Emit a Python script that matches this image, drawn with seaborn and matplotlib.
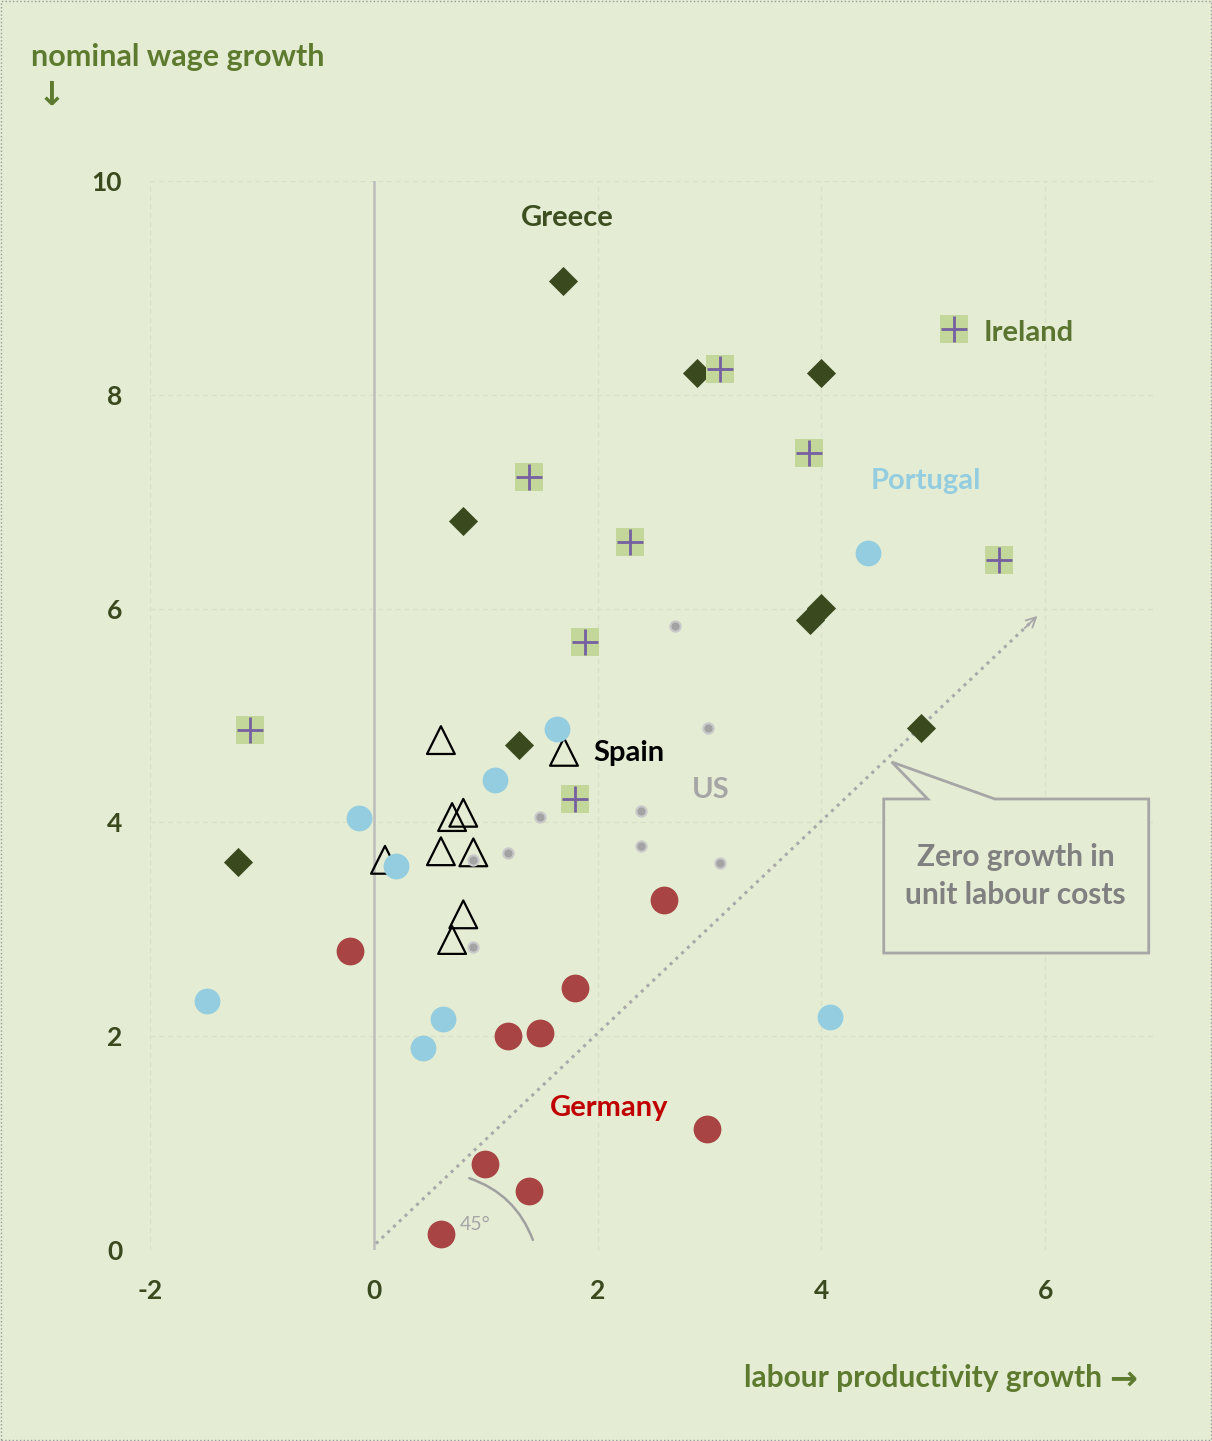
import pandas as pd
import matplotlib.pyplot as plt
import matplotlib
import seaborn as sns
from matplotlib.patches import Polygon, Rectangle

# labour productivity growth (x) and nominal wage growth (y)
greece_x = [1.69, 2.89, 4.00, 0.80, 4.00, 3.90, 4.89, 1.30, -1.21]
greece_y = [9.06, 8.20, 8.20, 6.82, 6.01, 5.89, 4.88, 4.72, 3.63]

ireland_x = [5.19, 3.09, 3.89, 1.39, 2.29, 5.59, 1.89, -1.11, 1.80]
ireland_y = [8.62, 8.24, 7.46, 7.23, 6.62, 6.45, 5.69, 4.86, 4.22]

spain_x = [0.60, 1.70, 0.70, 0.80, 0.60, 0.89, 0.10, 0.80, 0.70]
spain_y = [4.77, 4.66, 4.05, 4.09, 3.73, 3.72, 3.65, 3.14, 2.90]

us_x = [2.69, 2.99, 1.49, 2.39, 2.39, 3.09, 1.20, 0.89, 0.89]
us_y = [5.84, 4.88, 4.05, 4.11, 3.78, 3.62, 3.71, 3.65, 2.83]

portugal_x = [4.42, 1.64, 1.08, -0.13, 0.20, -1.49, 0.62, 0.44, 4.08]
portugal_y = [6.52, 4.87, 4.40, 4.04, 3.59, 2.33, 2.16, 1.89, 2.18]

germany_x = [2.59, -0.21, 1.80, 1.20, 1.49, 2.98, 0.99, 1.39, 0.60]
germany_y = [3.27, 2.80, 2.45, 2.00, 2.03, 1.13, 0.80, 0.55, 0.15]

x_ticks = [-2, 0, 2, 4, 6]
y_ticks = [0, 2, 4, 6, 8, 10]

BG = '#e4ecd4'
sns.set_style('white', {'axes.facecolor': BG, 'figure.facecolor': BG})
plt.rcParams['font.family'] = ['Lato', 'DejaVu Sans']
plt.rcParams['font.weight'] = 'bold'
plt.rcParams['axes.unicode_minus'] = False

def frame(xs, ys):
    return pd.DataFrame({'x': xs, 'y': ys})

fig = plt.figure(figsize=(12.12, 14.41), dpi=100)
ax = fig.add_axes([150 / 1212, 1 - 1250 / 1441, 1007 / 1212, 1069 / 1441])

# grid
for v in [-2, 2, 4, 6]:
    ax.axvline(v, color='#d8dfca', lw=0.9, ls=(0, (4, 3)), zorder=0)
for v in y_ticks:
    ax.axhline(v, color='#d8dfca', lw=0.9, ls=(0, (4, 3)), zorder=0)
ax.axvline(0, color='#bdbdbd', lw=1.8, zorder=1)

# zero ULC growth line
ax.plot([0.02, 5.9], [0.06, 5.9], color='#a9a9a9', lw=2.2, ls=(0, (1, 1.6)), zorder=1)
ax.annotate('', xy=(5.95, 5.95), xytext=(5.8, 5.8),
            arrowprops=dict(arrowstyle='->,head_length=0.7,head_width=0.35',
                            color='#a9a9a9', lw=1.3), zorder=1)
ax.annotate('', xy=(1.43, 0.07), xytext=(0.83, 0.68),
            arrowprops=dict(arrowstyle='-', color='#a0a0a0', lw=1.8,
                            connectionstyle='arc3,rad=-0.25'))
ax.text(0.91, 0.24, '45°', color='#a6a6a6', fontsize=14, fontweight='normal',
        ha='center', va='center')

# callout box
box = [(4.558, 4.219), (4.951, 4.219), (4.629, 4.565), (5.550, 4.219),
       (6.926, 4.219), (6.926, 2.778), (4.558, 2.778)]
ax.add_patch(Polygon(box, closed=True, facecolor=BG, edgecolor='#a6a6a6', lw=2, zorder=3))
ax.text(5.737, 3.50, 'Zero growth in\nunit labour costs', color='#808080',
        fontsize=21.5, fontweight='bold', ha='center', va='center',
        linespacing=1.45, zorder=4)

# points
sns.scatterplot(data=frame(greece_x, greece_y), x='x', y='y', ax=ax, marker='D',
                s=220, color='#3b4a1e', edgecolor='#3b4a1e', linewidth=0, zorder=5)
sns.scatterplot(data=frame(ireland_x, ireland_y), x='x', y='y', ax=ax, marker='s',
                s=430, color='#c4d79b', edgecolor='#c4d79b', linewidth=0, zorder=6)
sns.scatterplot(data=frame(ireland_x, ireland_y), x='x', y='y', ax=ax, marker='+',
                s=370, color='#7560a0', linewidth=2, zorder=7)
sns.scatterplot(data=frame(spain_x, spain_y), x='x', y='y', ax=ax, marker='^',
                s=400, facecolor='none', edgecolor='black', linewidth=1.6, zorder=8)
sns.scatterplot(data=frame(us_x, us_y), x='x', y='y', ax=ax, marker='o',
                s=55, color='#a3a3a3', edgecolor='#c9c9c9', linewidth=1.5, zorder=9)
sns.scatterplot(data=frame(portugal_x, portugal_y), x='x', y='y', ax=ax, marker='o',
                s=345, color='#93cddf', edgecolor='#93cddf', linewidth=0, zorder=10)
sns.scatterplot(data=frame(germany_x, germany_y), x='x', y='y', ax=ax, marker='o',
                s=400, color='#a84444', edgecolor='#a84444', linewidth=0, zorder=11)

# country labels
lab = dict(fontsize=21, fontweight='bold', va='center', zorder=12)
ax.text(1.73, 9.65, 'Greece', color='#3d4f20', ha='center', **lab)
ax.text(5.45, 8.58, 'Ireland', color='#5b7530', ha='left', **lab)
ax.text(4.93, 7.19, 'Portugal', color='#93cddf', ha='center', **lab)
ax.text(1.96, 4.65, 'Spain', color='black', ha='left', **lab)
ax.text(3.01, 4.30, 'US', color='#a6a6a6', ha='center', **lab)
ax.text(2.10, 1.33, 'Germany', color='#c00000', ha='center', **lab)

ax.set_xlim(-2, 7)
ax.set_ylim(0, 10)
ax.set_xticks(x_ticks)
ax.set_yticks(y_ticks)
ax.set_xticklabels([str(v) for v in x_ticks], fontweight='bold', fontsize=19)
ax.set_yticklabels([str(v) for v in y_ticks], fontweight='bold', fontsize=19)
ax.tick_params(length=0, labelcolor='#3b4a1e')
ax.tick_params(axis='x', pad=21)
ax.tick_params(axis='y', pad=20)
ax.set_xlabel('')
ax.set_ylabel('')
sns.despine(ax=ax, left=True, bottom=True)

fig.text(31 / 1212, 1 - 57 / 1441, 'nominal wage growth', color='#5e7a2e',
         fontsize=22, fontweight='bold', ha='left', va='center')
fig.text(52 / 1212, 1 - 95 / 1441, '↓', color='#5e7a2e', fontsize=24,
         ha='center', va='center', family=['DejaVu Sans'])
fig.text(1102 / 1212, 1 - 1378 / 1441, 'labour productivity growth', color='#5e7a2e',
         fontsize=21.5, fontweight='bold', ha='right', va='center')
fig.text(1123 / 1212, 1 - 1379 / 1441, '→', color='#5e7a2e', fontsize=24,
         ha='center', va='center', family=['DejaVu Sans'])

fig.patches.append(Rectangle((0.001, 0.001), 0.998, 0.998, transform=fig.transFigure,
                             fill=False, ec='#9a9a9a', lw=1, ls=':'))

plt.savefig('out.png', dpi=100, facecolor=BG)
